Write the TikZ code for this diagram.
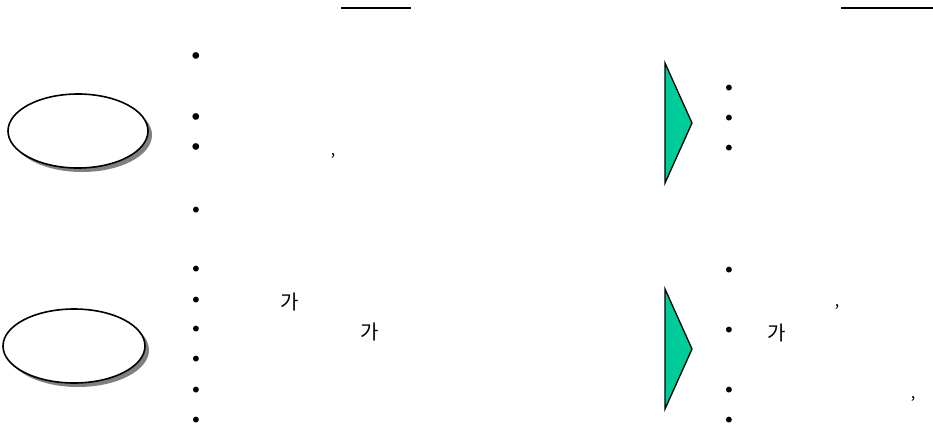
\documentclass[tikz,border=0pt]{standalone}
\usepackage{fontspec}
\newfontfamily\kr{Noto Sans CJK KR}
\newfontfamily\dv{DejaVu Sans}
\definecolor{tri}{RGB}{0,204,153}
\definecolor{shad}{RGB}{128,128,128}
\begin{document}
\begin{tikzpicture}[x=1pt,y=-1pt,
  bul/.style={inner sep=0pt,font=\dv\fontsize{20}{20}\selectfont},
  bigbul/.style={inner sep=0pt,font=\dv\fontsize{23}{23}\selectfont},
  txt/.style={inner sep=0pt,font=\kr\fontsize{20}{20}\selectfont},
  commatxt/.style={inner sep=0pt,font=\kr\fontsize{16}{16}\selectfont},
  ovalline/.style={fill=white,draw=black,line width=1.6pt},
  arrowtri/.style={fill=tri,draw=black,line width=1.3pt,line join=miter},
  toprule/.style={line width=2.6pt}]
\useasboundingbox (0,0) rectangle (933,434);
% top rules
\coordinate (r1a) at (341,8); \coordinate (r1b) at (411,8);
\coordinate (r2a) at (841,8); \coordinate (r2b) at (933,8);
\draw[toprule] (r1a) -- (r1b);
\draw[toprule] (r2a) -- (r2b);
% ellipses
\fill[shad] (82,135) ellipse [x radius=70,y radius=37];
\filldraw[ovalline] (78,131) ellipse [x radius=70,y radius=37];
\fill[shad] (78,350) ellipse [x radius=71,y radius=37];
\filldraw[ovalline] (74,346) ellipse [x radius=71,y radius=37];
% triangles
\draw[arrowtri] (665,63) -- (692,123) -- (665,183) -- cycle;
\draw[arrowtri] (665,289) -- (692,349) -- (665,409) -- cycle;
% left bullets
\foreach \y/\n in {59/a,120/b,150/c}
  \node[bigbul] (lb\n) at (196,\y) {•};
\foreach \y/\n in {212/d,271/e,302/f,331/g,361/h,392/i,422/j}
  \node[bul] (lb\n) at (196,\y) {•};
% right bullets
\foreach \y/\n in {90/a,120/b,150/c,272/d,332/e,392/f,422/g}
  \node[bul] (rb\n) at (729,\y) {•};
% texts
\node[commatxt] (c1) at (333,156) {,};
\node[txt] (g1) at (290,302) {가};
\node[txt] (g2) at (370,332) {가};
\node[txt] (g3) at (777,333) {가};
\node[commatxt] (c2) at (837,307) {,};
\node[commatxt] (c3) at (913,399) {,};
\end{tikzpicture}
\end{document}
